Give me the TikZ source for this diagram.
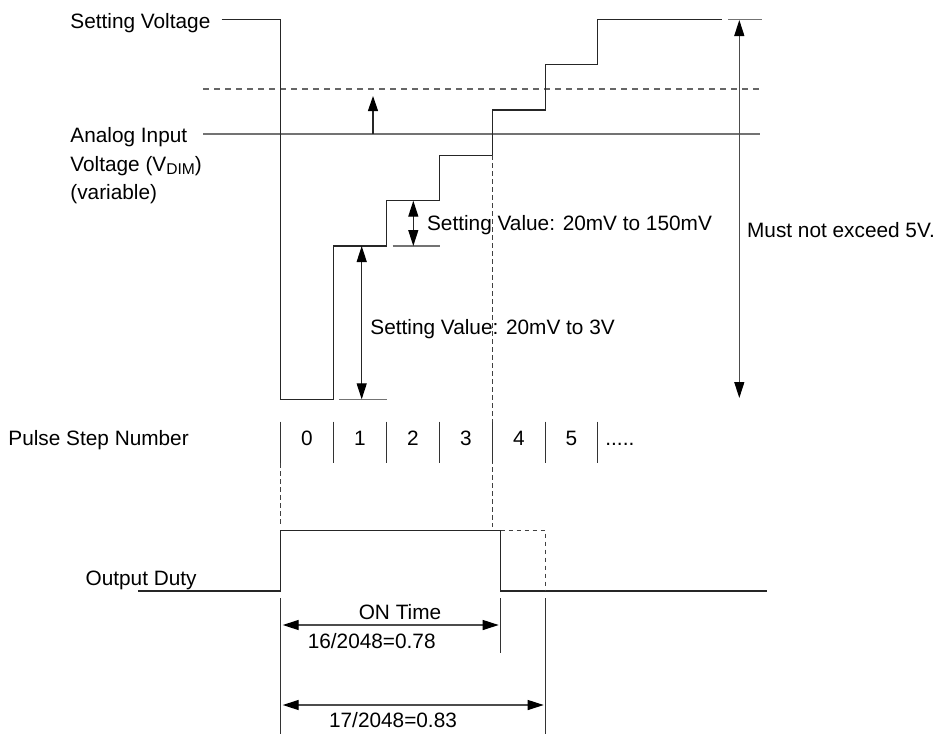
\documentclass[tikz,border=0pt]{standalone}
\usepackage{fontspec}
\setmainfont{Liberation Sans}
\usetikzlibrary{arrows.meta}
\tikzset{
    wave-line/.style = {draw=black!85, line width=0.7pt},
    guide-line/.style = {draw=black!55, line width=0.6pt},
    tick-line/.style = {draw=black!80, line width=0.55pt},
    dash-line/.style = {draw=black!60, line width=0.6pt, dash pattern=on 3pt off 2.5pt},
    vdash-line/.style = {draw=black!75, line width=0.5pt, dash pattern=on 2.3pt off 1.7pt},
    dim-arrow/.style = {draw=black!70, line width=0.6pt, {Triangle[length=8pt,width=5pt,black]}-{Triangle[length=8pt,width=5pt,black]}},
    up-arrow/.style = {draw=black!85, line width=0.6pt, -{Triangle[length=7.5pt,width=5pt,black]}},
    label-text/.style = {font=\fontsize{10.4}{14}\selectfont, inner sep=0pt},
}

\begin{document}
\begin{tikzpicture}[x=0.5pt, y=-0.5pt]
\useasboundingbox (0,0) rectangle (946,734);

% left labels
\node[label-text, anchor=base west] (setv) at (70,28) {Setting Voltage};
\node[label-text, anchor=base west] (ain-a) at (70,142.5) {Analog Input};
\node[label-text, anchor=base west] (ain-b) at (70,171) {Voltage (V\raisebox{-0.35ex}{\fontsize{7.8}{8}\selectfont DIM})};
\node[label-text, anchor=base west] (ain-c) at (70,199.5) {(variable)};
\node[label-text, anchor=base west] (pstep) at (8,445.5) {Pulse Step Number};
\node[label-text, anchor=base east] (oduty) at (197,585.5) {Output Duty};

% input voltage levels
\draw[dash-line] (203,89) -- (760,89);
\draw[guide-line] (203,134) -- (760,134);
\coordinate (vdim-a) at (373,134);
\coordinate (vdim-b) at (373,96);
\draw[up-arrow] (vdim-a) -- (vdim-b);

% setting voltage staircase
\draw[wave-line] (221.7,19.3) -| (280.7,399.3) -| (333.3,246) -| (386.7,200.7)
    -| (439.3,155.3) -| (492.3,110) -| (545.3,64.7) -| (597.7,19.3) -- (721.7,19.3);

% dimension marks
\draw[guide-line] (339.3,399.3) -- (386.7,399.3);
\draw[guide-line] (392.7,246) -- (440,246);
\draw[guide-line] (728,19.3) -- (762,19.3);
\coordinate (first-top) at (361.7,246);
\coordinate (first-bot) at (361.7,399.3);
\coordinate (inc-top) at (413.3,200.7);
\coordinate (inc-bot) at (413.3,246);
\coordinate (max-top) at (739.3,20);
\coordinate (max-bot) at (739.3,398);
\draw[dim-arrow, draw=black!85] (first-top) -- (first-bot);
\draw[dim-arrow, draw=black!85] (inc-top) -- (inc-bot);
\draw[dim-arrow] (max-top) -- (max-bot);
\node[label-text, anchor=base west] (sv-inc) at (426.7,230) {Setting Value: 20mV to 150mV};
\node[label-text, anchor=base west] (sv-first) at (370,334.8) {Setting Value: 20mV to 3V};
\node[label-text, anchor=base west] (maxv) at (746.7,237.5) {Must not exceed 5V.};

% pulse step number
\draw[vdash-line] (492.3,155.3) -- (492.3,527);
\draw[vdash-line] (280.7,463) -- (280.7,525);
\foreach \x in {280.7,333.3,386.7,439.3,492.3,545.3,597.7}
    \draw[tick-line] (\x,421.7) -- (\x,463);
\foreach \n/\x in {0/307,1/360,2/413,3/465.8,4/518.8,5/571.5}
    \node[label-text, anchor=base] (num-\n) at (\x,445.5) {\n};
\node[label-text, anchor=base west] (more) at (605,445.5) {.....};

% output duty
\draw[wave-line] (137.9,591) -| (280.7,530.7) -| (500.7,591) -- (766.8,591);
\draw[vdash-line] (500.7,530.7) -| (545.7,591);
\draw[guide-line, draw=black!80] (280.7,598) -- (280.7,734);
\draw[guide-line, draw=black!80] (545.7,598) -- (545.7,734);
\draw[guide-line, draw=black!80] (500.7,598) -- (500.7,652.7);
\coordinate (on-l) at (282.7,625);
\coordinate (on-r) at (498.7,625);
\coordinate (next-l) at (282.7,705);
\coordinate (next-r) at (543.7,705);
\draw[dim-arrow] (on-l) -- (on-r);
\draw[dim-arrow] (next-l) -- (next-r);
\node[label-text, anchor=base] (ontime) at (400,619) {ON Time};
\node[label-text, anchor=base] (duty-a) at (371.7,648) {16/2048=0.78};
\node[label-text, anchor=base] (duty-b) at (393,727.5) {17/2048=0.83};
\end{tikzpicture}
\end{document}
